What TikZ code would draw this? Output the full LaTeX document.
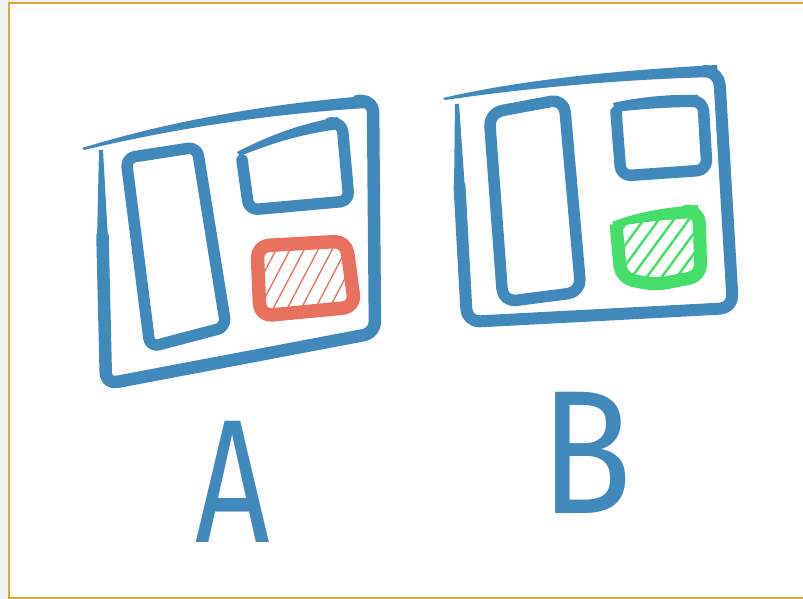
\documentclass[tikz,border=0pt]{standalone}
\usepackage{fontspec}
\newfontfamily\sketchfont{Fira Sans}
\definecolor{skblue}{HTML}{4189BA}
\definecolor{skred}{HTML}{E8705E}
\definecolor{skgreen}{HTML}{45DE6B}
\definecolor{skgold}{HTML}{D9A93A}
\definecolor{skbg}{HTML}{F0F0F0}
\tikzset{
  pen/.style={draw=skblue, line cap=round, line join=round},
  hatchred/.style={draw=skred, line width=1.3, line cap=round},
  hatchgreen/.style={draw=skgreen, line width=2.4, line cap=round},
  letter/.style={text=skblue, inner sep=0pt, anchor=base, font=\sketchfont\fontsize{176}{176}\selectfont}
}
\begin{document}
\begin{tikzpicture}[x=1pt,y=-1pt]
\useasboundingbox (0,0) rectangle (803,599);
\clip (0,0) rectangle (803,599);
\fill[skbg] (0,0) rectangle (803,599);
\fill[white] (8.5,3.5) rectangle (810,597.5);
\draw[skgold, line width=2] (810,3.5) -- (8.5,3.5) -- (8.5,597.5) -- (810,597.5);

% ---------- Frame A ----------
\fill[skblue] (82,148) .. controls (180,118) and (280,103) .. (366,96) -- (368,108) .. controls (280,113) and (180,127) .. (84,150) -- cycle;
\fill[skblue] (99,150) -- (103,150) -- (108,240) -- (97,240) -- cycle;
\draw[pen, line width=12.5, rounded corners=11] (102.5,236) -- (106,384) -- (375,333) -- (373,101) -- (358,101);
% tall inner
\draw[pen, line width=11.5, rounded corners=9] (126,158) -- (197,147) -- (226,327) -- (150,347) -- cycle;
% top-right inner
\fill[skblue] (237,152) .. controls (270,135) and (300,124) .. (338,117) -- (340,129) .. controls (300,134) and (270,144) .. (240,156) -- cycle;
\draw[pen, line width=11.5, rounded corners=9] (330,123) -- (342,123) -- (349,201) -- (249,210) -- (242,160);
% red hatched
\begin{scope}
\clip (250,248) -- (345,246) -- (350,305) -- (262,313) -- cycle;
\foreach \k in {0,...,11} {
  \draw[hatchred] (220+14*\k,330) -- (264+14*\k,246);
}
\end{scope}
\draw[draw=skred, line width=13.5, line join=round, rounded corners=12] (257,246) -- (346,241) -- (355,307) -- (260,316) -- cycle;

% ---------- Frame B ----------
\fill[skblue] (443,98) .. controls (520,80) and (620,70) .. (717,65) -- (718,77) .. controls (620,79) and (520,89) .. (445,100) -- cycle;
\fill[skblue] (455,104) -- (459,104) -- (465,190) -- (454,190) -- cycle;
\draw[pen, line width=12, rounded corners=13] (459.5,186) -- (467,322) -- (733,308) -- (719,72) -- (705,71);
% tall inner
\draw[pen, line width=11.5, rounded corners=13] (489,113) -- (564,99) -- (581,292) -- (503,302) -- cycle;
% top-right inner
\fill[skblue] (613,103) .. controls (640,97) and (670,94) .. (698,95) -- (698,107) .. controls (670,107) and (640,109) .. (615,112) -- cycle;
\draw[pen, line width=11.5, rounded corners=10] (688,101) -- (703,101) -- (707,170) -- (621,176) -- (616,112);
% green hatched
\begin{scope}
\clip (615,223) -- (696,214) -- (696,272) -- (655,280) -- (624,275) -- cycle;
\foreach \k in {0,...,9} {
  \draw[hatchgreen] (570+15*\k,300) -- (630+15*\k,218);
}
\end{scope}
\fill[skgreen] (612,222) .. controls (640,211) and (670,207) .. (698,205) -- (699,218) .. controls (670,219) and (640,222) .. (615,227) -- cycle;
\draw[draw=skgreen, line width=13, line join=round, rounded corners=12] (690,211) -- (699,211) -- (701,276) -- (655,285) -- (621,278) -- (616,224);

% ---------- Labels ----------
\node[letter, xscale=0.74] (labA) at (233,542) {A};
\node[letter, xscale=0.86] (labB) at (587,513) {B};
\end{tikzpicture}
\end{document}
